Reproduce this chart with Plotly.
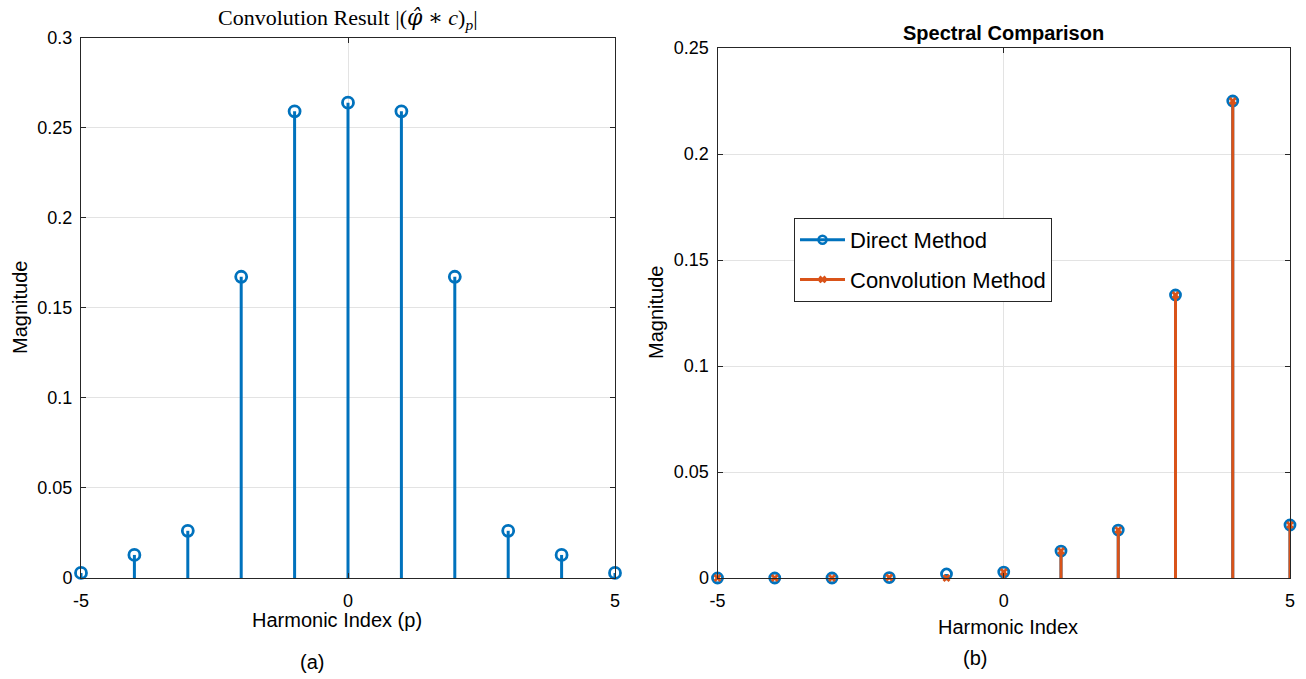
import plotly.graph_objects as go

# ---- data ----
p = [-5, -4, -3, -2, -1, 0, 1, 2, 3, 4, 5]
conv_result = [0.0028, 0.0128, 0.0262, 0.1672, 0.2590, 0.2638, 0.2590, 0.1672, 0.0262, 0.0128, 0.0028]
direct_method = [0.0, 0.0, 0.0, 0.0002, 0.0019, 0.0028, 0.0127, 0.0226, 0.1335, 0.2250, 0.0250]
conv_method = [0.0, 0.0, 0.0, 0.0002, 0.0, 0.0028, 0.0127, 0.0226, 0.1335, 0.2250, 0.0250]

left_yticks = [0, 0.05, 0.1, 0.15, 0.2, 0.25, 0.3]
left_yticklabels = ["0", "0.05", "0.1", "0.15", "0.2", "0.25", "0.3"]
right_yticks = [0, 0.05, 0.1, 0.15, 0.2, 0.25]
right_yticklabels = ["0", "0.05", "0.1", "0.15", "0.2", "0.25"]
xticks = [-5, 0, 5]

BLUE = "#0072BD"
ORANGE = "#D95319"
AX = "#262626"
GRID = "#e3e3e3"
FONT = "Liberation Sans, Arial, sans-serif"
W, H = 1306, 679


def stem_xy(xs, ys):
    sx, sy = [], []
    for x, y in zip(xs, ys):
        sx += [x, x, None]
        sy += [0, y, None]
    return sx, sy


fig = go.Figure()

# Left panel
sx, sy = stem_xy(p, conv_result)
fig.add_trace(go.Scatter(x=sx, y=sy, mode="lines", line=dict(color=BLUE, width=3),
                         xaxis="x", yaxis="y", showlegend=False, hoverinfo="skip"))
fig.add_trace(go.Scatter(x=p, y=conv_result, mode="markers", cliponaxis=False,
                         marker=dict(symbol="circle-open", size=11, color=BLUE, line=dict(width=2.8, color=BLUE)),
                         xaxis="x", yaxis="y", showlegend=False))

# Right panel
sx, sy = stem_xy(p, direct_method)
fig.add_trace(go.Scatter(x=sx, y=sy, mode="lines", line=dict(color=BLUE, width=3),
                         xaxis="x2", yaxis="y2", showlegend=False, hoverinfo="skip"))
fig.add_trace(go.Scatter(x=p, y=direct_method, mode="markers", cliponaxis=False,
                         marker=dict(symbol="circle-open", size=10, color=BLUE, line=dict(width=2.8, color=BLUE)),
                         xaxis="x2", yaxis="y2", showlegend=False))
sx, sy = stem_xy(p, conv_method)
fig.add_trace(go.Scatter(x=sx, y=sy, mode="lines", line=dict(color=ORANGE, width=3),
                         xaxis="x2", yaxis="y2", showlegend=False, hoverinfo="skip"))
fig.add_trace(go.Scatter(x=p, y=conv_method, mode="markers", cliponaxis=False,
                         marker=dict(symbol="x", size=7, color=ORANGE),
                         xaxis="x2", yaxis="y2", showlegend=False))

# legend entries
fig.add_trace(go.Scatter(x=[None], y=[None], mode="lines+markers", name="Direct Method",
                         legendgroup="a",
                         line=dict(color=BLUE, width=3),
                         marker=dict(symbol="circle-open", size=8, color=BLUE, line=dict(width=2.5, color=BLUE)),
                         xaxis="x2", yaxis="y2"))
fig.add_trace(go.Scatter(x=[None], y=[None], mode="lines+markers", name="Convolution Method",
                         legendgroup="b",
                         line=dict(color=ORANGE, width=3),
                         marker=dict(symbol="x", size=7, color=ORANGE),
                         xaxis="x2", yaxis="y2"))

ybot = 1 - 578 / H

common_x = dict(range=[-5, 5], tickvals=xticks, ticktext=[str(t) for t in xticks],
                showgrid=True, gridcolor=GRID, gridwidth=1, zeroline=False,
                showline=True, linecolor=AX, linewidth=1, mirror="ticks",
                ticks="inside", ticklen=5, tickcolor=AX, automargin=False,
                ticklabelstandoff=6,
                tickfont=dict(family=FONT, size=18, color="#000"))
common_y = dict(showgrid=True, gridcolor=GRID, gridwidth=1, zeroline=False,
                showline=True, linecolor=AX, linewidth=1, mirror="ticks",
                ticks="inside", ticklen=5, tickcolor=AX, automargin=False,
                ticklabelstandoff=4,
                tickfont=dict(family=FONT, size=18, color="#000"))

fig.update_layout(
    width=W, height=H,
    margin=dict(l=0, r=0, t=0, b=0, pad=0, autoexpand=False),
    paper_bgcolor="white", plot_bgcolor="white",
    xaxis=dict(domain=[81 / W, 615 / W], anchor="y", **common_x),
    yaxis=dict(domain=[ybot, 1 - 37.5 / H], anchor="x", range=[0, 0.3],
               tickvals=left_yticks, ticktext=left_yticklabels, **common_y),
    xaxis2=dict(domain=[717.5 / W, 1290 / W], anchor="y2", **common_x),
    yaxis2=dict(domain=[ybot, 1 - 48 / H], anchor="x2", range=[0, 0.25],
                tickvals=right_yticks, ticktext=right_yticklabels, **common_y),
    showlegend=True,
    legend=dict(x=794 / W, y=1 - 218 / H, xanchor="left", yanchor="top",
                bgcolor="white", bordercolor=AX, borderwidth=1,
                font=dict(family=FONT, size=22, color="#000"),
                itemwidth=45, tracegroupgap=8),
    font=dict(family=FONT, color="#000"),
)

ann = []
def add_text(text, x, y, size=17, family=FONT, angle=0):
    ann.append(dict(text=text, x=x / W, y=1 - y / H, xref="paper", yref="paper",
                    showarrow=False, xanchor="center", yanchor="middle",
                    textangle=angle, font=dict(family=family, size=size, color="#000")))

add_text("Convolution Result |(<span style=\"font-family:DejaVu Serif\"><i>φ̂</i></span> ∗ <i>c</i>)<sub><i>p</i></sub>|",
         348, 19, size=22, family="Liberation Serif, DejaVu Serif, serif")
add_text("<b>Spectral Comparison</b>", 1003, 33, size=20)
add_text("Magnitude", 20, 308, size=20, angle=-90)
add_text("Magnitude", 656, 312, size=20, angle=-90)
add_text("Harmonic Index (p)", 337, 620, size=20)
add_text("Harmonic Index", 1008, 627, size=20)
add_text("(a)", 312, 662, size=20)
add_text("(b)", 975, 658, size=20)
fig.update_layout(annotations=ann)

fig.write_html("out.html")
